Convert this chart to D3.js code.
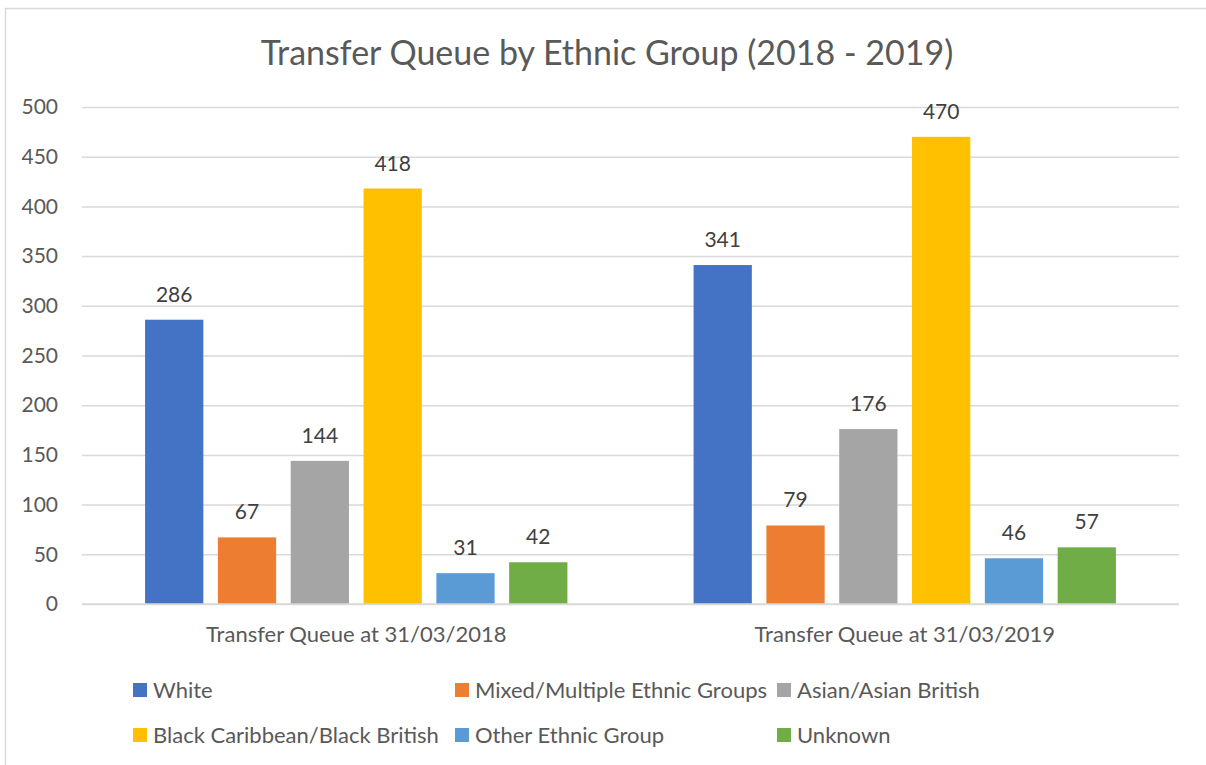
<!DOCTYPE html>
<html>
<head>
<meta charset="utf-8">
<script src="https://cdn.jsdelivr.net/npm/d3@7"></script>
<style>
  html, body { margin: 0; padding: 0; background: #fff; }
  svg { display: block; }
  text { font-family: Lato, "Open Sans", sans-serif; }
</style>
</head>
<body>
<svg id="chart" width="1206" height="765"></svg>
<script>
const title = "Transfer Queue by Ethnic Group (2018 - 2019)";
const categories = ["Transfer Queue at 31/03/2018", "Transfer Queue at 31/03/2019"];
const seriesNames = ["White", "Mixed/Multiple Ethnic Groups", "Asian/Asian British",
                     "Black Caribbean/Black British", "Other Ethnic Group", "Unknown"];
const seriesColors = ["#4472C4", "#ED7D31", "#A5A5A5", "#FFC000", "#5B9BD5", "#70AD47"];
const values2018 = [286, 67, 144, 418, 31, 42];
const values2019 = [341, 79, 176, 470, 46, 57];
const yTicks = [0, 50, 100, 150, 200, 250, 300, 350, 400, 450, 500];

const valuesByCategory = [values2018, values2019];

const svg = d3.select("#chart");
svg.append("rect").attr("width", 1206).attr("height", 765).attr("fill", "#fff");

// chart border (left & top visible)
svg.append("path")
  .attr("d", "M5.5,765 L5.5,8.5 L1206,8.5")
  .attr("fill", "none").attr("stroke", "#D9D9D9").attr("stroke-width", 1.5);

const plot = { left: 82, right: 1179, top: 107, bottom: 604 };

const y = d3.scaleLinear().domain([0, 500]).range([plot.bottom, plot.top]);
const x0 = d3.scaleBand().domain(categories).range([plot.left, plot.right]).padding(0);
const gp = x0.bandwidth() * 0.115;
const x1 = d3.scaleBand().domain(seriesNames).range([gp, x0.bandwidth() - gp]).paddingInner(0.2);

// gridlines
const yAxis = d3.axisLeft(y).tickValues(yTicks).tickSize(-(plot.right - plot.left)).tickPadding(24);
const gy = svg.append("g").attr("transform", `translate(${plot.left},0)`).call(yAxis);
gy.select(".domain").remove();
gy.selectAll(".tick line").attr("stroke", "#D9D9D9").attr("stroke-width", 1.5);
gy.selectAll(".tick text").attr("fill", "#595959").style("font-size", "21px")
  .attr("font-family", "Lato, 'Open Sans', sans-serif");

// bars
const groups = svg.selectAll("g.grp").data(categories).join("g")
  .attr("class", "grp")
  .attr("transform", d => `translate(${x0(d)},0)`);

groups.each(function(cat, ci) {
  const g = d3.select(this);
  const vals = valuesByCategory[ci];
  g.selectAll("rect").data(seriesNames).join("rect")
    .attr("x", s => x1(s))
    .attr("width", x1.bandwidth())
    .attr("y", (s, i) => y(vals[i]))
    .attr("height", (s, i) => y(0) - y(vals[i]))
    .attr("fill", (s, i) => seriesColors[i]);
  g.selectAll("text.lbl").data(seriesNames).join("text")
    .attr("class", "lbl")
    .attr("x", s => x1(s) + x1.bandwidth() / 2)
    .attr("y", (s, i) => y(vals[i]) - 18)
    .attr("text-anchor", "middle")
    .attr("fill", "#404040")
    .style("font-size", "21px")
    .text((s, i) => vals[i]);
});

// baseline
svg.append("line")
  .attr("x1", plot.left).attr("x2", plot.right)
  .attr("y1", y(0)).attr("y2", y(0))
  .attr("stroke", "#D9D9D9").attr("stroke-width", 1.5);

// x axis labels
const xAxis = d3.axisBottom(x0).tickSize(0).tickPadding(22);
const gx = svg.append("g").attr("transform", `translate(0,${plot.bottom})`).call(xAxis);
gx.select(".domain").remove();
gx.selectAll(".tick text").attr("fill", "#595959").style("font-size", "22px")
  .attr("font-family", "Lato, 'Open Sans', sans-serif");

// title
svg.append("text")
  .attr("x", 607).attr("y", 65)
  .attr("text-anchor", "middle")
  .attr("fill", "#595959")
  .style("font-size", "34px")
  .text(title);

// legend
const legendCols = [133, 455, 777];
const legendRows = [690, 735];
const lg = svg.append("g");
seriesNames.forEach((name, i) => {
  const cx = legendCols[i % 3];
  const cy = legendRows[Math.floor(i / 3)];
  lg.append("rect").attr("x", cx).attr("y", cy - 7).attr("width", 14).attr("height", 14)
    .attr("fill", seriesColors[i]);
  lg.append("text").attr("x", cx + 20).attr("y", cy + 7.5)
    .attr("fill", "#595959").style("font-size", "22px").text(name);
});
</script>
</body>
</html>
